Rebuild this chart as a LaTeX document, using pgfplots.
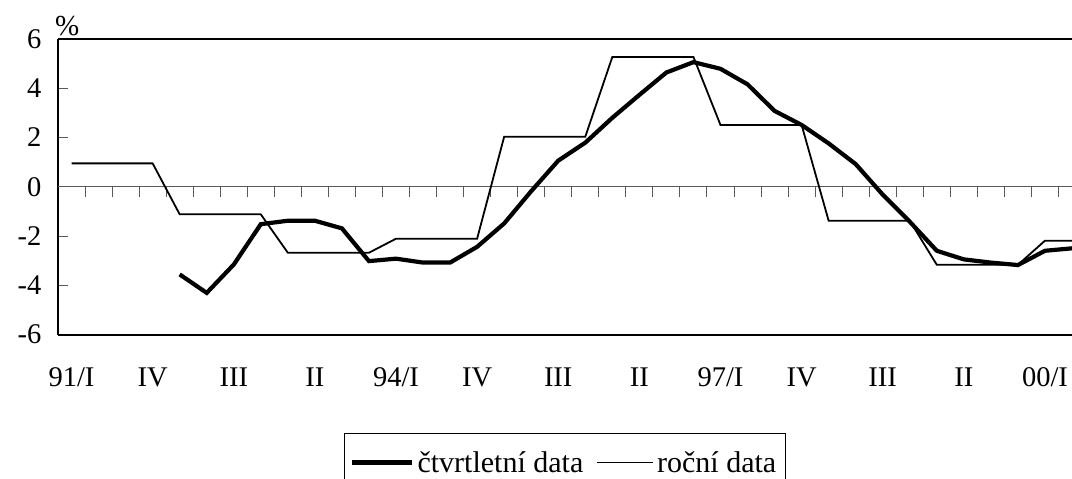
\documentclass[border=0pt]{standalone}
\usepackage{fontspec}
\setmainfont{Liberation Serif}
\usepackage{pgfplots}
\usepackage{pgfplotstable}
\pgfplotsset{compat=1.18}

\pgfplotstableread{
x y
4 -3.56
5 -4.31
6 -3.16
7 -1.52
8 -1.38
9 -1.38
10 -1.69
11 -3.02
12 -2.92
13 -3.08
14 -3.08
15 -2.44
16 -1.49
17 -0.18
18 1.06
19 1.79
20 2.80
21 3.73
22 4.64
23 5.06
24 4.79
25 4.16
26 3.08
27 2.51
28 1.76
29 0.92
30 -0.32
31 -1.42
32 -2.60
33 -2.95
34 -3.08
35 -3.18
36 -2.60
37 -2.50
}\quarterly

\pgfplotstableread{
x y
0 0.95
3 0.95
4 -1.12
7 -1.12
8 -2.68
11 -2.68
12 -2.11
15 -2.11
16 2.03
19 2.03
20 5.27
23 5.27
24 2.51
27 2.51
28 -1.38
31 -1.38
32 -3.17
35 -3.17
36 -2.19
37 -2.19
}\annual

\begin{document}
\begin{tikzpicture}
\begin{axis}[
  name=ax,
  at={(0pt,0pt)}, anchor=south west,
  width=1014pt, height=295.5pt, scale only axis,
  xmin=-0.5, xmax=37, ymin=-6, ymax=6,
  axis x line*=box, axis y line*=left,
  axis line style={black, line width=2pt},
  xtick={0,3,...,36},
  xticklabels={91/I,IV,III,II,94/I,IV,III,II,97/I,IV,III,II,00/I},
  x tick style={draw=none},
  ytick={-6,-4,...,6},
  yticklabels={-6,-4,-2,0,2,4,6},
  y tick style={gray!70!black, line width=1pt},
  tick align=inside,
  major tick length=10pt,
  tick label style={font=\fontsize{28.5}{33}\selectfont},
  xticklabel style={yshift=-30pt},
  yticklabel style={xshift=-13pt},
  legend columns=2,
  legend style={
    at={(0.282,-0.3333)}, anchor=north west,
    draw=black, line width=0.8pt,
    font=\fontsize{30}{35}\selectfont,
    inner xsep=6pt, inner ysep=16pt,
    nodes={inner xsep=3pt},
    /tikz/every even column/.style={column sep=10pt},
  },
  clip=true,
]
\draw[gray!70!black, line width=1pt] (axis cs:-0.5,0) -- (axis cs:37,0);
\pgfplotsinvokeforeach{0.5,1.5,...,36.5}{
  \draw[gray!70!black, line width=1pt] (axis cs:#1,0) -- ++(0pt,-10pt);
}
\addplot[black, line width=4.2pt, legend image code/.code={\draw[black, line width=4.2pt] (0pt,0pt) -- (60pt,0pt);}] table[x=x,y=y] {\quarterly};
\addlegendentry{čtvrtletní data}
\addplot[black, line width=1.8pt, legend image code/.code={\draw[black, line width=1.8pt] (0pt,0pt) -- (56pt,0pt);}] table[x=x,y=y] {\annual};
\addlegendentry{roční data}
\end{axis}
\node[anchor=south west, inner sep=0pt, font=\fontsize{29}{34}\selectfont] at ([xshift=-3pt,yshift=3pt]ax.north west) {\%};
\pgfresetboundingbox
\useasboundingbox (-58pt,-144.5pt) rectangle (1014pt,334.5pt);
\end{tikzpicture}
\end{document}
